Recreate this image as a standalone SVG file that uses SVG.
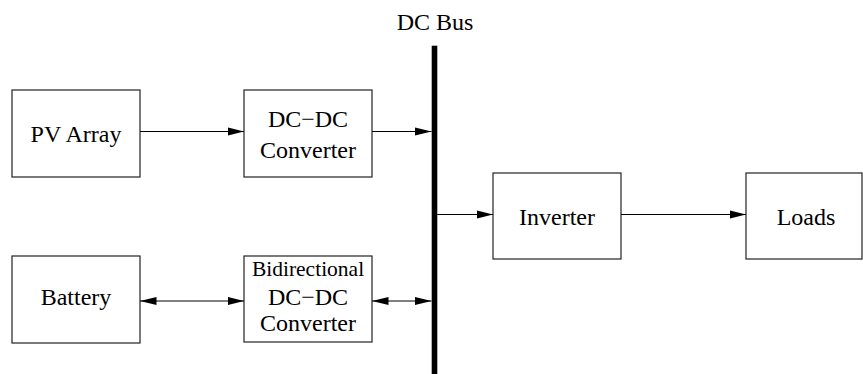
<svg xmlns="http://www.w3.org/2000/svg" width="863" height="374" viewBox="0 0 863 374">
<style>
.box{fill:#fff;stroke:#222;stroke-width:1.2}
.t{font-family:"Liberation Serif","Times New Roman",serif;font-size:24px;fill:#000;text-anchor:middle}
.s{font-size:21.5px}
.c{stroke:#000;stroke-width:1.2;fill:none}
</style>
<defs>
<marker id="ah" markerUnits="userSpaceOnUse" markerWidth="17" markerHeight="9" refX="16.5" refY="4" orient="auto-start-reverse" viewBox="0 0 17 8">
<path d="M0,0 L16.5,4 L0,8 z" fill="#000"/>
</marker>
</defs>
<g id="bus">
<rect x="431.7" y="45.7" width="5.6" height="330" fill="#000"/>
<text class="t" x="435" y="30">DC Bus</text>
</g>
<g id="pv">
<rect class="box" x="12" y="90" width="128" height="87"/>
<text class="t" x="76" y="141.5">PV Array</text>
</g>
<g id="dcdc">
<rect class="box" x="244" y="90" width="128" height="87"/>
<text class="t" x="308" y="127">DC−DC</text>
<text class="t" x="308" y="157.5">Converter</text>
</g>
<g id="battery">
<rect class="box" x="12" y="256" width="128" height="87"/>
<text class="t" x="76" y="305">Battery</text>
</g>
<g id="bidir">
<rect class="box" x="244" y="256" width="128" height="86"/>
<text class="t s" x="308" y="276">Bidirectional</text>
<text class="t" x="308" y="305">DC−DC</text>
<text class="t" x="308" y="331">Converter</text>
</g>
<g id="inverter">
<rect class="box" x="493" y="173" width="128" height="86"/>
<text class="t" x="557" y="224.5">Inverter</text>
</g>
<g id="loads">
<rect class="box" x="746" y="173" width="116" height="86"/>
<text class="t" x="806" y="224.5">Loads</text>
</g>
<g id="connectors">
<line class="c" x1="140" y1="131.5" x2="244" y2="131.5" marker-end="url(#ah)"/>
<line class="c" x1="372" y1="131.5" x2="431.5" y2="131.5" marker-end="url(#ah)"/>
<line class="c" x1="437.3" y1="214.5" x2="493" y2="214.5" marker-end="url(#ah)"/>
<line class="c" x1="621" y1="214.5" x2="746" y2="214.5" marker-end="url(#ah)"/>
<line class="c" x1="140" y1="301" x2="244" y2="301" marker-start="url(#ah)" marker-end="url(#ah)"/>
<line class="c" x1="372" y1="301" x2="431.5" y2="301" marker-start="url(#ah)" marker-end="url(#ah)"/>
</g>
</svg>
